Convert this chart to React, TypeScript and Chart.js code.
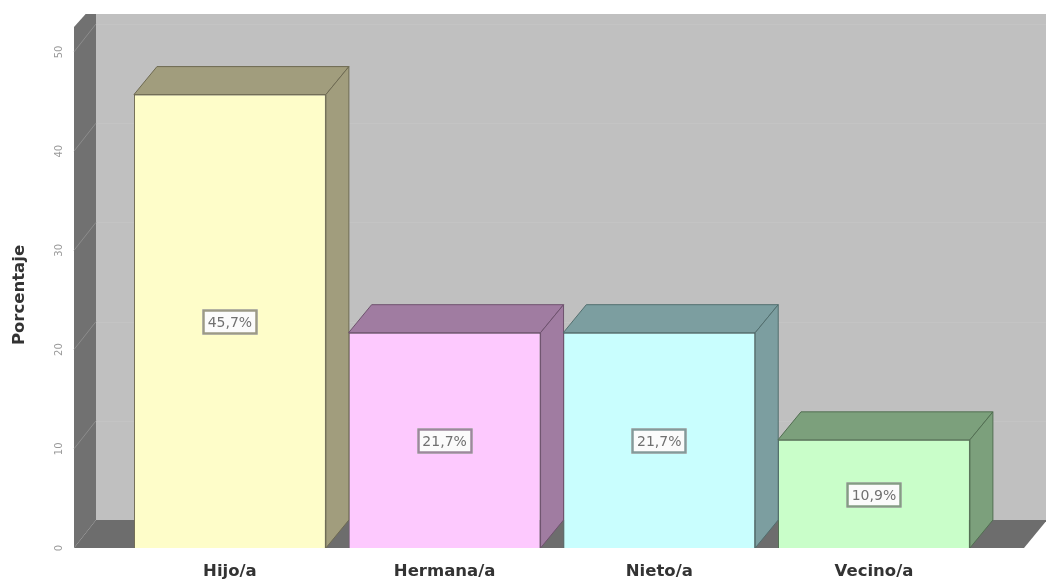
import React, { useEffect, useRef } from 'react';
import { Chart, registerables } from 'chart.js';
Chart.register(...registerables);

const categories = ['Hijo/a', 'Hermana/a', 'Nieto/a', 'Vecino/a'];
const percentages = [45.7, 21.7, 21.7, 10.9];
const valueLabels = ['45,7%', '21,7%', '21,7%', '10,9%'];
const yTicks = [0, 10, 20, 30, 40, 50];
const frontColors = ['#fefdc9', '#fdc9fe', '#c9fefe', '#c9fec9'];
const sideColors = ['#a19d7d', '#a07ca1', '#7c9ea0', '#7ca07c'];
const edgeColors = ['#6e6a52', '#6e526e', '#526e6e', '#526e52'];
const boxBorders = ['#9c9a86', '#9c889c', '#849a9a', '#849c84'];

const FONT = '"DejaVu Sans", "Liberation Sans", Arial, sans-serif';
const DX = 23;
const DY = -28;

const polygon = (ctx: CanvasRenderingContext2D, pts: number[][], fill: string, stroke?: string) => {
  ctx.beginPath();
  ctx.moveTo(pts[0][0], pts[0][1]);
  for (let i = 1; i < pts.length; i++) ctx.lineTo(pts[i][0], pts[i][1]);
  ctx.closePath();
  ctx.fillStyle = fill;
  ctx.fill();
  if (stroke) {
    ctx.strokeStyle = stroke;
    ctx.lineWidth = 1;
    ctx.stroke();
  }
};

const wallsPlugin = {
  id: 'walls3d',
  beforeDatasetsDraw(chart: any) {
    const { ctx, chartArea: a, scales } = chart;
    const y = scales.y;
    const bottom = y.getPixelForValue(0);
    const top = a.top;
    const W = chart.width;
    ctx.save();
    // back wall
    ctx.fillStyle = '#c0c0c0';
    ctx.fillRect(a.left + DX, top + DY, W - (a.left + DX), bottom - top);
    // back wall grid lines (very faint)
    ctx.strokeStyle = '#c4c4c4';
    ctx.lineWidth = 1;
    yTicks.forEach((t) => {
      if (t === 0) return;
      const py = Math.round(y.getPixelForValue(t) + DY) + 0.5;
      ctx.beginPath();
      ctx.moveTo(a.left + DX, py);
      ctx.lineTo(W, py);
      ctx.stroke();
    });
    // left wall
    polygon(ctx, [
      [a.left + 1, bottom],
      [a.left + 1, top + DY + 13],
      [a.left + DX * 0.55, top + DY],
      [a.left + DX, top + DY],
      [a.left + DX, bottom + DY],
    ], '#717171');
    // left wall grid lines
    ctx.strokeStyle = '#8c8c8c';
    yTicks.forEach((t) => {
      if (t === 0) return;
      const py = y.getPixelForValue(t);
      ctx.beginPath();
      ctx.moveTo(a.left + 1, py);
      ctx.lineTo(a.left + DX, py + DY);
      ctx.stroke();
    });
    // floor
    polygon(ctx, [
      [a.left + 1, bottom],
      [a.right, bottom],
      [a.right + DX, bottom + DY],
      [a.left + DX, bottom + DY],
    ], '#6d6d6d');
    ctx.restore();
  },
  afterDatasetsDraw(chart: any) {
    const { ctx } = chart;
    const meta = chart.getDatasetMeta(0);
    ctx.save();
    meta.data.forEach((bar: any, i: number) => {
      const { x, y, base, width } = bar.getProps(['x', 'y', 'base', 'width'], true);
      const l = x - width / 2;
      const r = x + width / 2;
      // top face
      polygon(ctx, [[l, y], [r, y], [r + DX, y + DY], [l + DX, y + DY]], sideColors[i], edgeColors[i]);
      // side face
      polygon(ctx, [[r, y], [r + DX, y + DY], [r + DX, base + DY], [r, base]], sideColors[i], edgeColors[i]);
    });
    // value labels
    ctx.font = `14px ${FONT}`;
    ctx.textAlign = 'center';
    ctx.textBaseline = 'middle';
    meta.data.forEach((bar: any, i: number) => {
      const { x, y, base } = bar.getProps(['x', 'y', 'base'], true);
      const cy = (y + base) / 2 + 1;
      const bw = 56;
      const bh = 26;
      const bx = Math.round(x - bw / 2);
      const by = Math.round(cy - bh / 2);
      ctx.fillStyle = '#fbfbfb';
      ctx.fillRect(bx, by, bw, bh);
      ctx.strokeStyle = boxBorders[i];
      ctx.lineWidth = 2.5;
      ctx.strokeRect(bx + 1.5, by + 1.5, bw - 3, bh - 3);
      ctx.fillStyle = '#707070';
      ctx.fillText(valueLabels[i], x, cy + 1);
    });
    ctx.restore();
  },
  afterDraw(chart: any) {
    const { ctx, chartArea: a, scales } = chart;
    const y = scales.y;
    ctx.save();
    ctx.font = `10px ${FONT}`;
    ctx.fillStyle = '#9a9a9a';
    ctx.textAlign = 'center';
    ctx.textBaseline = 'middle';
    yTicks.forEach((t) => {
      const py = y.getPixelForValue(t);
      ctx.save();
      ctx.translate(a.left - 14, py);
      ctx.rotate(-Math.PI / 2);
      ctx.fillText(String(t), 0, 0);
      ctx.restore();
    });
    ctx.restore();
  },
};

export default function App() {
  const ref = useRef<HTMLCanvasElement | null>(null);
  useEffect(() => {
    if (!ref.current) return;
    const chart = new Chart(ref.current, {
      type: 'bar',
      data: {
        datasets: [
          {
            data: percentages.map((v, i) => ({ x: i, y: v })),
            backgroundColor: frontColors,
            borderColor: edgeColors,
            borderWidth: 1,
            categoryPercentage: 1,
            barPercentage: 0.894,
          },
        ],
      },
      options: {
        responsive: false,
        animation: false,
        layout: { padding: { left: 5, right: 22, top: 42, bottom: 0 } },
        plugins: { legend: { display: false }, tooltip: { enabled: false } },
        scales: {
          x: {
            type: 'linear',
            min: -0.731,
            max: 3.699,
            offset: false,
            grid: { display: false, drawTicks: false, offset: false },
            border: { display: false },
            ticks: {
              stepSize: 1,
              includeBounds: false,
              autoSkip: false,
              maxRotation: 0,
              padding: 14,
              color: '#333333',
              font: { family: FONT, size: 16.5, weight: 'bold' },
              callback: (v: any) => (Number.isInteger(v) && categories[v] ? categories[v] : ''),
            },
            afterFit: (s: any) => {
              s.height = 31;
            },
          },
          y: {
            min: 0,
            max: 51,
            grid: { display: false, drawTicks: false },
            border: { display: false },
            ticks: { display: false, stepSize: 10 },
            title: {
              display: true,
              text: 'Porcentaje',
              color: '#333333',
              padding: { top: 5, bottom: 0 },
              font: { family: FONT, size: 16.5, weight: 'bold' },
            },
            afterFit: (s: any) => {
              s.width = 68;
            },
          },
        },
      } as any,
      plugins: [wallsPlugin],
    });
    return () => chart.destroy();
  }, []);
  return (
    <div style={{ position: 'fixed', left: 0, top: 0, width: 1046, height: 579, background: '#ffffff' }}>
      <canvas ref={ref} width={1046} height={579} style={{ display: 'block' }} />
    </div>
  );
}
